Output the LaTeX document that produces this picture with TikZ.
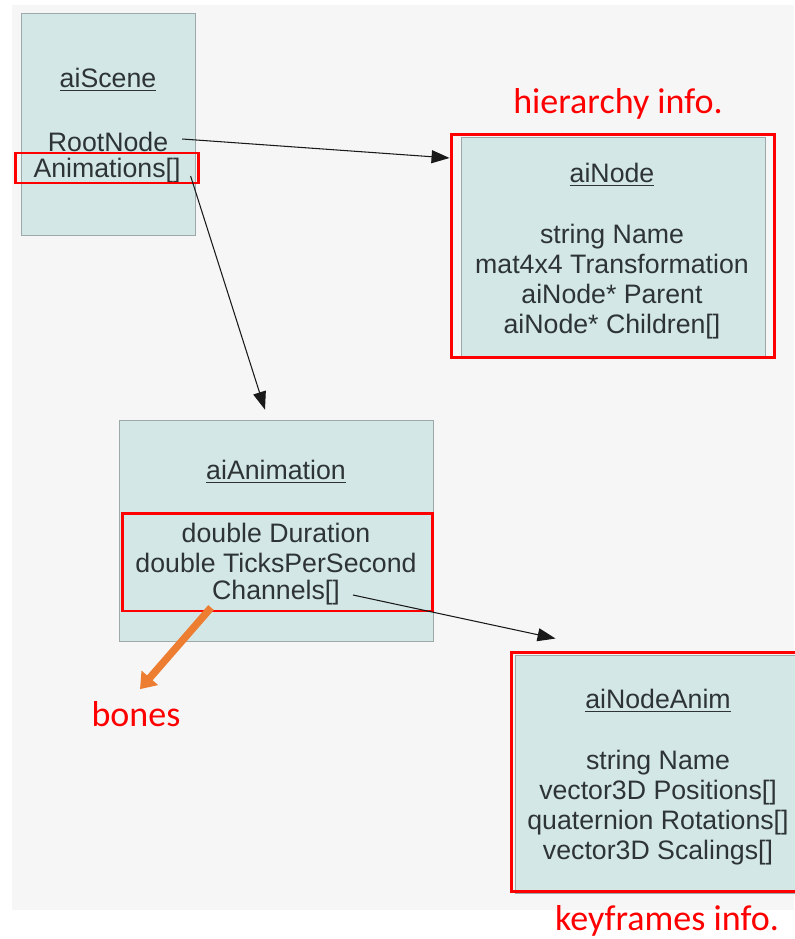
\documentclass[tikz,border=0pt]{standalone}
\usepackage{fontspec}
\setmainfont{Liberation Sans}
\newfontfamily\notefont{Carlito}
\usetikzlibrary{arrows.meta, positioning}

\definecolor{boxfill}{HTML}{D2E7E6}
\definecolor{boxline}{HTML}{9DA8A8}
\definecolor{txt}{HTML}{2E3436}
\definecolor{pagebg}{HTML}{F6F6F6}
\definecolor{hired}{HTML}{FF0000}
\definecolor{boneorange}{HTML}{ED7D31}

\begin{document}
\begin{tikzpicture}[
    x=0.02cm, y=-0.02cm,
    every node/.style={font=\fontsize{15.2}{17.1}\selectfont, text=txt},
    classbox/.style={rectangle, draw=boxline, fill=boxfill, inner sep=0pt},
    member/.style={inner sep=1pt, align=center},
    hilite/.style={rectangle, draw=hired, line width=1.7pt, inner sep=0pt},
    note/.style={font=\notefont\fontsize{20.5}{24}\selectfont, text=hired},
    link/.style={-{Triangle[length=3.6mm, width=2.6mm]}, semithick, black!90},
    bonearrow/.style={-{Triangle[length=3mm, width=4.2mm]}, line width=4.2pt, boneorange}
]

\useasboundingbox (0,0) rectangle (794,939);
\fill[pagebg] (12,5) rectangle (794,910);

% ============ CLASS BOXES ============
\node[classbox, minimum width=3.48cm, minimum height=4.44cm] (scenebox) at (108,124) {};
\node[classbox, minimum width=6.08cm, minimum height=4.4cm] (nodebox) at (613,247) {};
\node[classbox, minimum width=6.28cm, minimum height=4.42cm] (animbox) at (276,530.5) {};
\node[classbox, minimum width=5.72cm, minimum height=4.76cm] (nodeanimbox) at (658,774) {};

% aiScene
\node (scenetitle) at (108,80) {\underline{aiScene}};
\node[member] (rootnode) at (108,142) {RootNode};
\node[member] (animations) at (107,171) {Animations[]};

% aiNode
\node (nodetitle) at (612,175) {\underline{aiNode}};
\node[member] (nodebody) at (612,282) {string Name\\mat4x4 Transformation\\aiNode* Parent\\aiNode* Children[]};

% aiAnimation
\node (animtitle) at (276,472) {\underline{aiAnimation}};
\node[member] (animbody) at (276,548) {double Duration\\double TicksPerSecond};
\node[member] (channels) at (276,593) {Channels[]};

% aiNodeAnim
\node (nodeanimtitle) at (658,701) {\underline{aiNodeAnim}};
\node[member] (nodeanimbody) at (658,807.5) {string Name\\vector3D Positions[]\\quaternion Rotations[]\\vector3D Scalings[]};

% ============ RED HIGHLIGHTS ============
\node[hilite, minimum width=3.68cm, minimum height=0.6cm] (animhl) at (107,168) {};
\node[hilite, minimum width=6.48cm, minimum height=4.48cm] (nodehl) at (613,246) {};
\node[hilite, minimum width=6.22cm, minimum height=1.96cm] (animbodyhl) at (277.5,562) {};
\node[hilite, minimum width=5.78cm, minimum height=4.8cm] (nodeanimhl) at (655.5,772) {};

% ============ NOTES ============
\node[note] (hierarchy) at (618,104) {hierarchy info.};
\node[note] (bones) at (136,714) {bones};
\node[note] (keyframes) at (667,921) {keyframes info.};

% ============ CONNECTORS ============
\draw[link] ([shift={(12,-3)}]rootnode.east) -- ([shift={(0,-88)}]nodehl.west);
\draw[link] ([shift={(8,5)}]animations.east) -- ([shift={(-11,-10)}]animbox.north);
\draw[link] ([shift={(11,2)}]channels.east) -- ([shift={(46,-12)}]nodeanimhl.north west);
\draw[bonearrow] ([shift={(1,0)}]channels.south west) -- ([shift={(4,-6)}]bones.north);

\end{tikzpicture}
\end{document}
